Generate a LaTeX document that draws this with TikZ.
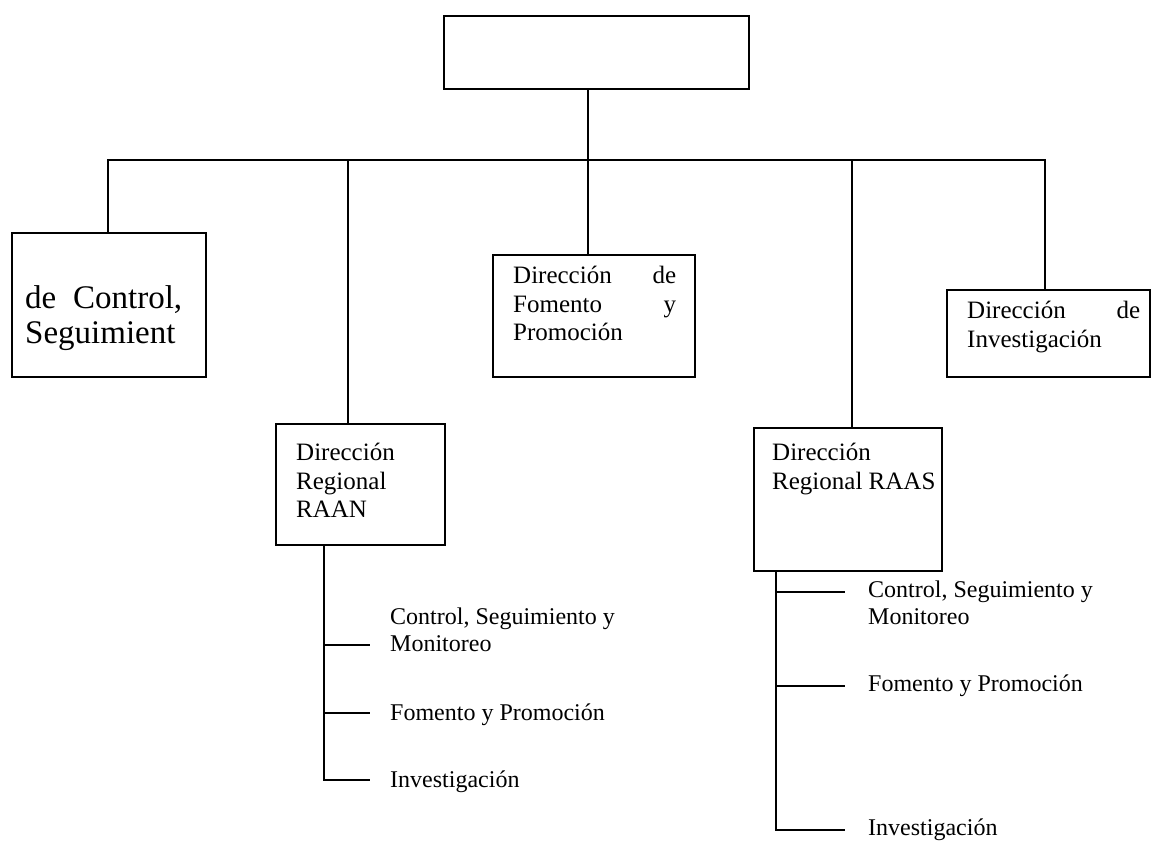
\documentclass[tikz,border=0pt]{standalone}
\usepackage{fontspec}
\setmainfont{Liberation Serif}
\usepackage{tikz}
\usetikzlibrary{positioning}

\tikzset{
  orgbox/.style={shape=rectangle,draw=black,line width=1.5pt,inner sep=0pt},
  boxtext/.style={anchor=north west,inner sep=0pt,align=left,font=\fontsize{25}{28.5}\selectfont},
  bigtext/.style={anchor=north west,inner sep=0pt,align=left,font=\fontsize{33}{35}\selectfont},
  subtext/.style={anchor=north west,inner sep=0pt,align=left,font=\fontsize{24}{27}\selectfont},
  link/.style={-,line width=1.5pt}
}

\begin{document}
\begin{tikzpicture}[x=1pt,y=-1pt]
        \useasboundingbox (0,0) rectangle (1152,844);
        %boxes
        \node[orgbox,minimum width=305pt,minimum height=73pt] (top) at (596.5,52.5) {};
        \node[orgbox,minimum width=194pt,minimum height=144pt] (ctrl) at (109,305) {};
        \node[orgbox,minimum width=202pt,minimum height=122pt] (fom) at (594,316) {};
        \node[orgbox,minimum width=203pt,minimum height=87pt] (inv) at (1048.5,333.5) {};
        \node[orgbox,minimum width=169pt,minimum height=121pt] (raan) at (360.5,484.5) {};
        \node[orgbox,minimum width=188pt,minimum height=143pt] (raas) at (848,499.5) {};
        %box texts
        \node[bigtext,text width=157pt] (ctrltxt) at (25,285) {de\hfill Control,\\Seguimient};
        \node[boxtext,text width=163pt] (fomtxt) at (513,266) {Direcci\'on\hfill de\\Fomento\hfill y\\Promoci\'on};
        \node[boxtext,text width=173pt] (invtxt) at (967,301) {Direcci\'on\hfill de\\Investigaci\'on};
        \node[boxtext] (raantxt) at (296,443) {Direcci\'on\\Regional\\RAAN};
        \node[boxtext] (raastxt) at (772,443) {Direcci\'on\\Regional RAAS};
        %sub items
        \node[subtext] (raanc) at (390,608) {Control, Seguimiento y\\Monitoreo};
        \node[subtext] (raanf) at (390,704) {Fomento y Promoci\'on};
        \node[subtext] (raani) at (390,771) {Investigaci\'on};
        \node[subtext] (raasc) at (868,581) {Control, Seguimiento y\\Monitoreo};
        \node[subtext] (raasf) at (868,675) {Fomento y Promoci\'on};
        \node[subtext] (raasi) at (868,819) {Investigaci\'on};
        %junctions on the bus
        \coordinate (j1) at (108,160);
        \coordinate (j2) at (348,160);
        \coordinate (j3) at (588,160);
        \coordinate (j4) at (852,160);
        \coordinate (j5) at (1045,160);
        %tick ends
        \coordinate (raanct) at (370,645);
        \coordinate (raanft) at (370,713);
        \coordinate (raanit) at (370,780);
        \coordinate (raasct) at (845,592);
        \coordinate (raasft) at (845,686);
        \coordinate (raasit) at (845,830);
        %edges from the top box
        \path[link] (j3 |- top.south) edge (j3);
        \draw[link] (ctrl.north -| j1) -- (j1) -- (j5) -- (inv.north -| j5);
        \path[link] (j2) edge (j2 |- raan.north);
        \path[link] (j3) edge (j3 |- fom.north);
        \path[link] (j4) edge (j4 |- raas.north);
        %edges to the sub items
        \draw[link] (324,0 |- raan.south) -- (324,0 |- raanit) -- (raanit);
        \path[link] (324,0 |- raanct) edge (raanct);
        \path[link] (324,0 |- raanft) edge (raanft);
        \draw[link] (776,0 |- raas.south) -- (776,0 |- raasit) -- (raasit);
        \path[link] (776,0 |- raasct) edge (raasct);
        \path[link] (776,0 |- raasft) edge (raasft);
\end{tikzpicture}
\end{document}
